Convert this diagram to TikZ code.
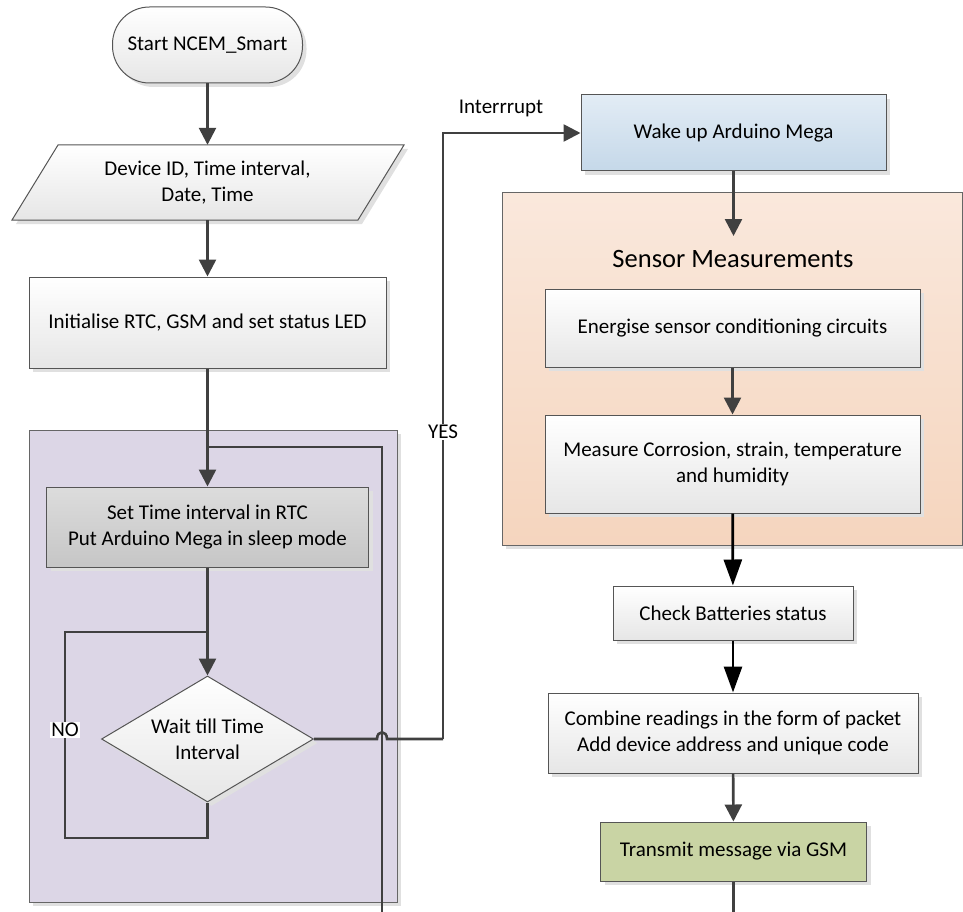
\documentclass[tikz,border=0pt]{standalone}
\usepackage{fontspec}
\setmainfont{Carlito}
\usetikzlibrary{shapes.geometric,arrows.meta,shadows}
\definecolor{linec}{HTML}{404040}
\definecolor{bordc}{HTML}{555555}
\definecolor{boxbot}{HTML}{E6E6E6}
\definecolor{setTop}{HTML}{DCDCDC}
\definecolor{setBot}{HTML}{C6C6C6}
\definecolor{purp}{HTML}{DCD6E6}
\definecolor{oraTop}{HTML}{FAE8DC}
\definecolor{oraBot}{HTML}{F5D5BE}
\definecolor{bluTop}{HTML}{E2ECF5}
\definecolor{bluBot}{HTML}{C5D8E9}
\definecolor{grn}{HTML}{C9D4A4}
\definecolor{shad}{HTML}{E0E0E0}
\begin{document}
\begin{tikzpicture}[x=1pt,y=-1pt,
  txt/.style={font=\fontsize{21}{26}\selectfont, align=center},
  shd/.style={drop shadow={shadow xshift=4pt, shadow yshift=-4pt, fill=shad, opacity=1}},
  box/.style={txt, draw=bordc, line width=1pt, shading=axis, top color=white, bottom color=boxbot, shd, inner sep=0pt},
  group/.style={draw=bordc!90, line width=1pt, shd, inner sep=0pt},
  conn/.style={draw=linec, line width=2.6pt},
  arr/.style={conn, -{Triangle[length=17pt,width=17pt]}},
  barr/.style={draw=black, line width=2.8pt, -{Triangle[length=26pt,width=18pt]}},
  lbl/.style={txt, fill=white, inner sep=1.5pt}
]
\useasboundingbox (0,0) rectangle (963,912);

% groups
\node[group, fill=purp, minimum width=368pt, minimum height=472pt] (grp) at (213,666) {};
\node[group, top color=oraTop, bottom color=oraBot, shading=axis, minimum width=460pt, minimum height=352pt] (sens) at (732,369) {};

% start terminal
\node[box, rounded corners=37pt, minimum width=190pt, minimum height=76pt] (start) at (207.5,45) {Start NCEM\_Smart};

% input parallelogram
\fill[shad] (62,149) -- (408,149) -- (362,224) -- (16,224) -- cycle;
\shade[top color=white, bottom color=boxbot, draw=bordc, line width=1pt] (58,145) -- (404,145) -- (358,220) -- (12,220) -- cycle;
\node[txt, minimum height=75pt, inner sep=0pt] (input) at (207.5,182.5) {Device ID, Time interval,\\Date, Time};

\node[box, minimum width=357pt, minimum height=91pt] (init) at (207.5,322.5) {Initialise RTC, GSM and set status LED};
\node[box, top color=setTop, bottom color=setBot, minimum width=322pt, minimum height=80pt] (setbox) at (207.5,527) {Set Time interval in RTC\\Put Arduino Mega in sleep mode};
\node[box, shape=diamond, aspect=1.68, minimum width=212pt, minimum height=126pt] (wait) at (207.5,739) {Wait till Time\\Interval};

\node[box, top color=bluTop, bottom color=bluBot, minimum width=305pt, minimum height=76pt] (wake) at (733.5,133) {Wake up Arduino Mega};
\node[font=\fontsize{26.5}{30}\selectfont, anchor=center] (title) at (733,259) {Sensor Measurements};
\node[box, minimum width=375pt, minimum height=78pt] (energ) at (732.5,328) {Energise sensor conditioning circuits};
\node[box, minimum width=375pt, minimum height=98pt] (meas) at (732.5,464) {Measure Corrosion, strain, temperature\\and humidity};
\node[box, minimum width=240pt, minimum height=54pt] (check) at (733,613) {Check Batteries status};
\node[box, minimum width=370pt, minimum height=80pt] (comb) at (733,733) {Combine readings in the form of packet\\Add device address and unique code};
\node[box, top color=grn, bottom color=grn, minimum width=266pt, minimum height=59pt] (trans) at (733.5,851.5) {Transmit message via GSM};

% coordinates
\coordinate (j1) at (207.5,447);
\coordinate (loopend) at (382,912);
\coordinate (noB) at (207.5,838);
\coordinate (noL) at (65,838);
\coordinate (noT) at (207.5,632);
\coordinate (hA) at (377,739);
\coordinate (hB) at (387,739);
\coordinate (yesC) at (443,739);
\coordinate (titletop) at (733.5,236);
\coordinate (transend) at (733.5,912);

% connectors
\draw[arr] (start) -- (input);
\draw[arr] (input.south) -- (init);
\draw[conn] (init) -- (j1);
\draw[arr] (j1) -- (setbox);
\draw[conn] (j1) -| (loopend);
\draw[arr] (setbox) -- (wait);
\draw[conn] (wait.south) -- (noB) -- (noL) |- (noT);
\draw[conn] (wait.east) -- (hA) .. controls (377,730) and (387,730) .. (hB) -- (yesC);
\draw[arr] (yesC) |- (wake.west);
\draw[arr] (wake) -- (titletop);
\draw[arr] (energ) -- (meas);
\draw[barr] (meas) -- (check);
\draw[barr] (check) -- (comb);
\draw[arr] (comb) -- (trans);
\draw[conn] (trans) -- (transend);

% labels
\node[lbl] (nolbl) at (65,730) {NO};
\node[lbl] (yeslbl) at (443,432) {YES};
\node[txt] (intlbl) at (501,108) {Interrrupt};
\end{tikzpicture}
\end{document}
